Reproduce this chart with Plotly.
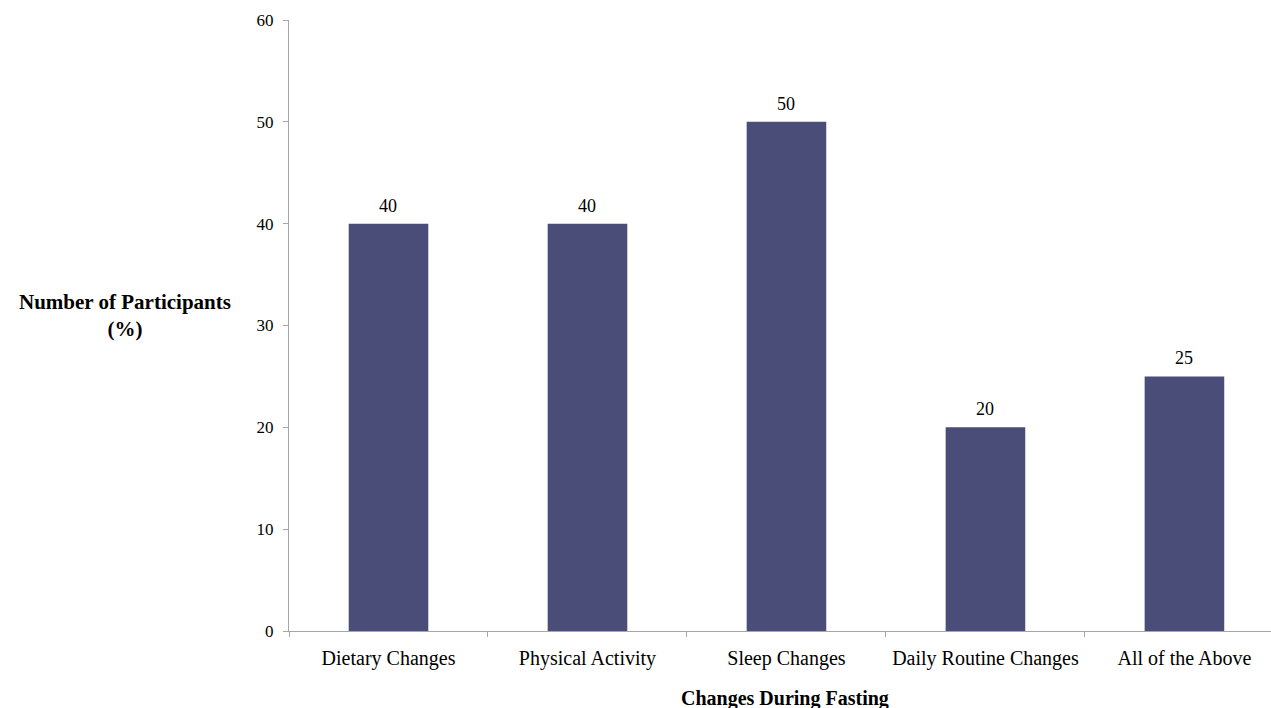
import plotly.graph_objects as go

categories = ["Dietary Changes", "Physical Activity", "Sleep Changes",
              "Daily Routine Changes", "All of the Above"]
values = [40, 40, 50, 20, 25]
y_ticks = [0, 10, 20, 30, 40, 50, 60]

BAR = "#494D77"
AXIS = "#A6A6A6"
FONT = "Liberation Serif, Times New Roman, serif"

fig = go.Figure(go.Bar(
    x=categories, y=values, width=0.4, marker=dict(color=BAR, line=dict(width=0)),
))

# value labels above each bar
for c, v in zip(categories, values):
    fig.add_annotation(x=c, y=v, text=str(v), showarrow=False, yanchor="bottom",
                       yshift=6, font=dict(family=FONT, size=18, color="black"))

fig.add_annotation(xref="paper", yref="paper", x=-0.167, y=0.517,
                   text="<b>Number of Participants</b><br><b>(%)</b>",
                   showarrow=False, xanchor="center", yanchor="middle",
                   font=dict(family=FONT, size=21, color="black"))
fig.add_annotation(xref="paper", yref="paper", x=0.505, y=-0.1097,
                   text="<b>Changes During Fasting</b>", showarrow=False,
                   xanchor="center", yanchor="middle",
                   font=dict(family=FONT, size=20, color="black"))

fig.update_layout(
    width=1271, height=708,
    margin=dict(l=289, r=0, t=20, b=77),
    plot_bgcolor="white", paper_bgcolor="white",
    showlegend=False,
    font=dict(family=FONT, size=16, color="black"),
    xaxis=dict(
        type="category", range=[-0.5, 4.435], tickson="boundaries",
        showline=True, linecolor=AXIS, linewidth=1,
        ticks="outside", ticklen=5, tickcolor=AXIS,
        showgrid=False, ticklabelstandoff=9,
        tickfont=dict(family=FONT, size=20, color="black"),
    ),
    yaxis=dict(
        range=[0, 60], tickvals=y_ticks,
        showline=True, linecolor=AXIS, linewidth=1,
        ticks="outside", ticklen=5, tickcolor=AXIS,
        showgrid=False, zeroline=False, ticklabelstandoff=6,
        tickfont=dict(family=FONT, size=17, color="black"),
    ),
)

fig.write_html("out.html")
